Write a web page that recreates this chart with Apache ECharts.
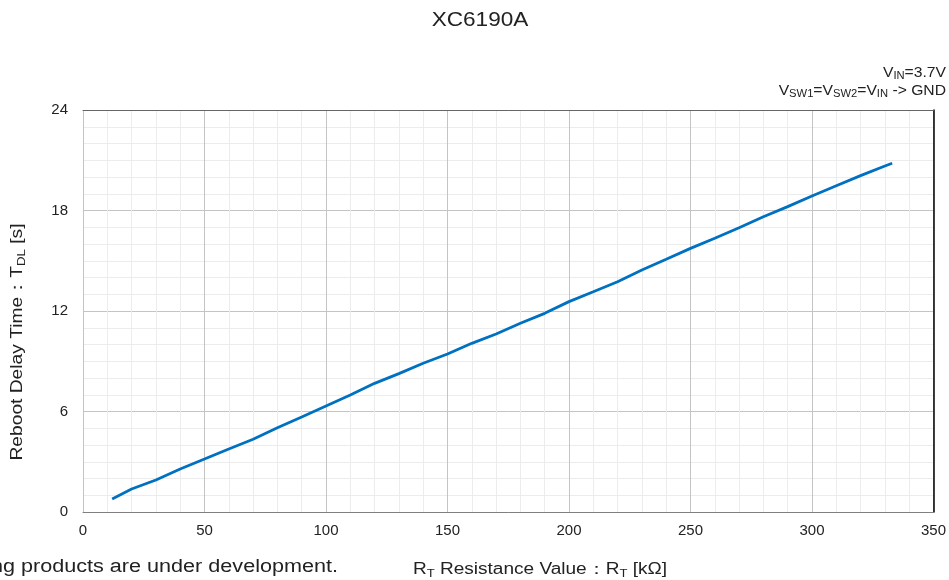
<!DOCTYPE html>
<html>
<head>
<meta charset="utf-8">
<script src="https://cdn.jsdelivr.net/npm/echarts@6/dist/echarts.min.js"></script>
<style>html,body{margin:0;padding:0;background:#fff}#c{width:949px;height:580px}</style>
</head>
<body>
<div id="c"></div>
<script>
var resistance = [12,20,30,40,50,60,70,80,90,100,110,120,130,140,150,160,170,180,190,200,210,220,230,240,250,260,270,280,290,300,310,320,330,333];
var delayTime = [0.78,1.37,1.91,2.57,3.16,3.76,4.34,5.03,5.67,6.33,6.98,7.68,8.26,8.88,9.43,10.07,10.63,11.27,11.86,12.56,13.15,13.75,14.45,15.09,15.74,16.34,16.97,17.63,18.23,18.87,19.48,20.08,20.66,20.82];
var xTicks = [0,50,100,150,200,250,300,350];
var yTicks = [0,6,12,18,24];

var FONT = 'Liberation Sans, Arial, sans-serif';
var chart = echarts.init(document.getElementById('c'));
var subStyle = {fontSize: 10, fontFamily: FONT, fill: '#222', padding: [6,0,0,0]};
var option = {
  animation: false,
  backgroundColor: '#fff',
  grid: {left: 83, right: 15, top: 110, bottom: 68, containLabel: false},
  xAxis: [{
    type: 'value', min: 0, max: 350, interval: 50,
    axisLine: {show: true, onZero: false, lineStyle: {color: '#808080', width: 1}},
    axisTick: {show: false},
    axisLabel: {color: '#222', fontSize: 15, fontFamily: FONT, margin: 11,
      formatter: function(v){ return xTicks.indexOf(v) >= 0 ? String(v) : ''; }},
    splitLine: {show: true, lineStyle: {color: '#c4c4c4', width: 1}},
    minorTick: {show: false, splitNumber: 5},
    minorSplitLine: {show: true, lineStyle: {color: '#ececec', width: 1}}
  }, {
    type: 'value', position: 'top', min: 0, max: 350, interval: 50,
    axisLine: {show: true, onZero: false, lineStyle: {color: '#666', width: 1}},
    axisTick: {show: false}, axisLabel: {show: false}, splitLine: {show: false}
  }],
  yAxis: [{
    type: 'value', min: 0, max: 24, interval: 6,
    axisLine: {show: false, onZero: false},
    axisTick: {show: false},
    axisLabel: {color: '#222', fontSize: 15, fontFamily: FONT, margin: 15,
      formatter: function(v){ return yTicks.indexOf(v) >= 0 ? String(v) : ''; }},
    splitLine: {show: true, lineStyle: {color: '#c4c4c4', width: 1}},
    minorTick: {show: false, splitNumber: 6},
    minorSplitLine: {show: true, lineStyle: {color: '#ececec', width: 1}}
  }, {
    type: 'value', position: 'right', min: 0, max: 24, interval: 6,
    axisLine: {show: true, onZero: false, lineStyle: {color: '#000', width: 1.5}},
    axisTick: {show: false}, axisLabel: {show: false}, splitLine: {show: false}
  }],
  series: [{
    type: 'line',
    data: resistance.map(function(r, i){ return [r, delayTime[i]]; }),
    showSymbol: false, symbol: 'none', smooth: false,
    lineStyle: {color: '#0070c0', width: 2.8},
    itemStyle: {color: '#0070c0'}
  }],
  graphic: [
    {type: 'text', x: 480, y: 20, scaleX: 1.13, style: {text: 'XC6190A', font: '20px ' + FONT, fill: '#222', align: 'center', verticalAlign: 'middle'}},
    {type: 'text', x: 946, y: 73, scaleX: 1.12, style: {
      text: '{m|V}{s|IN}{m|=3.7V}', align: 'right', verticalAlign: 'middle',
      rich: {m: {fontSize: 14, fontFamily: FONT, fill: '#222'}, s: subStyle}}},
    {type: 'text', x: 946, y: 91, scaleX: 1.12, style: {
      text: '{m|V}{s|SW1}{m|=V}{s|SW2}{m|=V}{s|IN}{m| -> GND}', align: 'right', verticalAlign: 'middle',
      rich: {m: {fontSize: 14, fontFamily: FONT, fill: '#222'}, s: subStyle}}},
    {type: 'text', x: 18, y: 342, rotation: Math.PI/2, scaleX: 1.2, style: {
      text: '{m|Reboot Delay Time：T}{s|DL}{m| [s]}', align: 'center', verticalAlign: 'middle',
      rich: {m: {fontSize: 16, fontFamily: FONT, fill: '#222'}, s: {fontSize: 11, fontFamily: FONT, fill: '#222', padding: [7,0,0,0]}}}},
    {type: 'text', x: 540, y: 570, scaleX: 1.19, style: {
      text: '{m|R}{s|T}{m| Resistance Value：R}{s|T}{m| [kΩ]}', align: 'center', verticalAlign: 'middle',
      rich: {m: {fontSize: 16, fontFamily: FONT, fill: '#222'}, s: {fontSize: 11, fontFamily: FONT, fill: '#222', padding: [7,0,0,0]}}}},
    {type: 'text', x: 338, y: 567, scaleX: 1.2, style: {
      text: 'The following products are under development.', align: 'right', verticalAlign: 'middle',
      font: '18px ' + FONT, fill: '#222'}}
  ]
};
chart.setOption(option);
</script>
</body>
</html>
